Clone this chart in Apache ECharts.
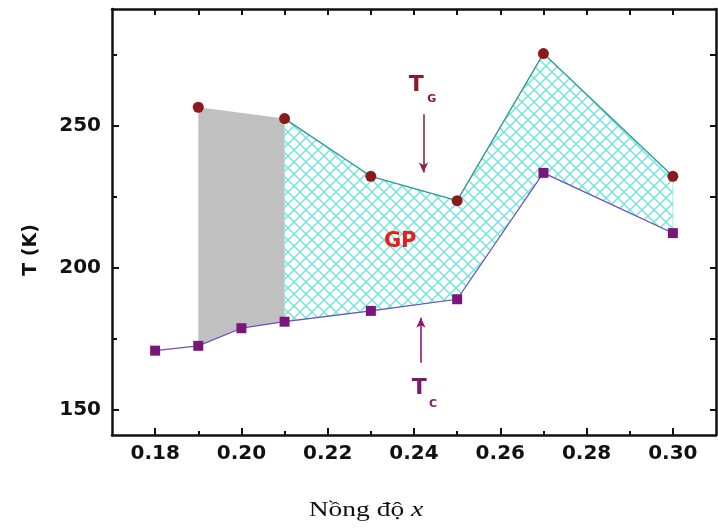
<!DOCTYPE html>
<html><head><meta charset="utf-8">
<script src="https://cdn.jsdelivr.net/npm/echarts@6/dist/echarts.min.js"></script>
<style>html,body{margin:0;padding:0;background:#fff}#c{width:718px;height:529px}</style>
</head><body><div id="c"></div>
<script>
// ---- data ----
const xMajorTicks = [0.18, 0.20, 0.22, 0.24, 0.26, 0.28, 0.30];
const xMinorTicks = [0.19, 0.21, 0.23, 0.25, 0.27, 0.29];
const xTopTicks = [0.18, 0.19, 0.20, 0.21, 0.22, 0.23, 0.24, 0.25, 0.26, 0.27, 0.28, 0.29, 0.30];
const yMajorTicks = [150, 200, 250];
const yMinorTicks = [175, 225, 275];
const yRightTicks = [150, 175, 200, 225, 250, 275];
const tgX = [0.19, 0.21, 0.23, 0.25, 0.27, 0.30];
const tgY = [256.4, 252.4, 232.1, 223.5, 275.3, 232.1];
const tcX = [0.18, 0.19, 0.20, 0.21, 0.23, 0.25, 0.27, 0.30];
const tcY = [170.7, 172.4, 178.6, 180.9, 184.7, 188.8, 233.3, 212.1];
const grayFrom = 0.19, grayTo = 0.21;   // gray band range
const gpFrom = 0.21, gpTo = 0.30;       // hatched GP band range

// ---- helpers ----
const pairs = (xs, ys) => xs.map((x, i) => [x, ys[i]]);
const tg = pairs(tgX, tgY), tc = pairs(tcX, tcY);
const inRange = (arr, a, b) => arr.filter(p => p[0] >= a - 1e-9 && p[0] <= b + 1e-9);
const bandPoly = (a, b) => inRange(tg, a, b).concat(inRange(tc, a, b).reverse());

const pc = document.createElement('canvas');
pc.width = 12; pc.height = 12;
const g = pc.getContext('2d');
g.fillStyle = '#ffffff'; g.fillRect(0, 0, 12, 12);
g.strokeStyle = '#6fe3dc'; g.lineWidth = 1.4;
for (const k of [-12, 0, 12]) {
  g.beginPath(); g.moveTo(k, 0); g.lineTo(k + 12, 12); g.stroke();
  g.beginPath(); g.moveTo(k + 12, 0); g.lineTo(k, 12); g.stroke();
}

const tickFont = {fontFamily: 'DejaVu Sans', fontWeight: 'bold', fontSize: 20, color: '#111'};
const axLine = {show: true, lineStyle: {color: '#111', width: 2.5}};

function polySeries(poly, fill, stroke) {
  return {
    type: 'custom', data: [poly[0]], z: 1, silent: true,
    renderItem: function (params, api) {
      const pts = poly.map(p => api.coord(p));
      return {type: 'polygon', shape: {points: pts},
        style: {fill: fill, stroke: stroke, lineWidth: stroke ? 0.8 : 0}};
    }
  };
}

const chart = echarts.init(document.getElementById('c'), null, {renderer: 'canvas'});
chart.setOption({
  animation: false,
  grid: {left: 112, right: 2, top: 9, bottom: 94},
  xAxis: [
    {type: 'value', position: 'bottom', min: 0.17, max: 0.31, axisLine: axLine,
     splitLine: {show: false},
     axisTick: {show: true, inside: true, length: 7, customValues: xMajorTicks, lineStyle: {color: '#111', width: 2}},
     axisLabel: Object.assign({customValues: xMajorTicks, margin: 9, formatter: v => v.toFixed(2)}, tickFont)},
    {type: 'value', position: 'bottom', min: 0.17, max: 0.31, axisLine: {show: false},
     splitLine: {show: false}, axisLabel: {show: false},
     axisTick: {show: true, inside: true, length: 4, customValues: xMinorTicks, lineStyle: {color: '#111', width: 2}}},
    {type: 'value', position: 'top', min: 0.17, max: 0.31, axisLine: axLine,
     splitLine: {show: false}, axisLabel: {show: false},
     axisTick: {show: true, inside: true, length: 6, customValues: xTopTicks, lineStyle: {color: '#111', width: 2}}}
  ],
  yAxis: [
    {type: 'value', position: 'left', min: 141, max: 291, axisLine: axLine,
     splitLine: {show: false},
     axisTick: {show: true, inside: true, length: 7, customValues: yMajorTicks, lineStyle: {color: '#111', width: 2}},
     axisLabel: Object.assign({customValues: yMajorTicks, margin: 11}, tickFont)},
    {type: 'value', position: 'left', min: 141, max: 291, axisLine: {show: false},
     splitLine: {show: false}, axisLabel: {show: false},
     axisTick: {show: true, inside: true, length: 5, customValues: yMinorTicks, lineStyle: {color: '#111', width: 2}}},
    {type: 'value', position: 'right', min: 141, max: 291, axisLine: axLine,
     splitLine: {show: false}, axisLabel: {show: false},
     axisTick: {show: true, inside: true, length: 6, customValues: yRightTicks, lineStyle: {color: '#111', width: 2}}}
  ],
  series: [
    polySeries(bandPoly(grayFrom, grayTo), '#c0c0c0', null),
    polySeries(bandPoly(gpFrom, gpTo), {image: pc, repeat: 'repeat'}, '#8ee8e2'),
    {type: 'line', data: inRange(tg, gpFrom, gpTo), symbol: 'none', z: 3,
     lineStyle: {color: '#2f9a98', width: 1.3},
     markLine: {silent: true, symbol: ['none', 'arrow'], symbolSize: [7, 10], label: {show: false},
       lineStyle: {type: 'solid', width: 1.6},
       data: [
         [{coord: [0.2422, 253.9], lineStyle: {color: '#8b2a3a', type: 'solid', width: 1.6}}, {coord: [0.2422, 233.4]}],
         [{coord: [0.2416, 166.4], lineStyle: {color: '#8b1a6e', type: 'solid', width: 1.6}}, {coord: [0.2416, 182.3]}]
       ]},
     markPoint: {silent: true, symbol: 'circle', symbolSize: 0,
       data: [
         {coord: [0.2405, 264.3], label: {show: true, position: 'inside', formatter: 'T', color: '#8b1a2a', fontFamily: 'DejaVu Sans', fontWeight: 'bold', fontSize: 22}},
         {coord: [0.2441, 259.2], label: {show: true, position: 'inside', formatter: 'G', color: '#8b1a2a', fontFamily: 'DejaVu Sans', fontWeight: 'bold', fontSize: 11}},
         {coord: [0.2412, 157.4], label: {show: true, position: 'inside', formatter: 'T', color: '#7a1a6e', fontFamily: 'DejaVu Sans', fontWeight: 'bold', fontSize: 22}},
         {coord: [0.2444, 151.9], label: {show: true, position: 'inside', formatter: 'C', color: '#7a1a6e', fontFamily: 'DejaVu Sans', fontWeight: 'bold', fontSize: 11}},
         {coord: [0.2368, 209.1], label: {show: true, position: 'inside', formatter: 'GP', color: '#e3201e', fontFamily: 'DejaVu Sans', fontWeight: 'bold', fontSize: 21}}
       ]}},
    {type: 'line', data: tc, symbol: 'rect', symbolSize: 10, z: 4,
     itemStyle: {color: '#7a167a', opacity: 1}, lineStyle: {color: '#6a50c0', width: 1.2}},
    {type: 'scatter', data: tg, symbol: 'circle', symbolSize: 11, z: 5,
     itemStyle: {color: '#8b1a1a', opacity: 1}}
  ],
  graphic: [
    {type: 'text', x: 31, y: 250, rotation: Math.PI / 2,
     style: {text: 'T (K)', align: 'center', verticalAlign: 'middle', fill: '#111',
       font: 'bold 19px "DejaVu Sans"'}},
    {type: 'text', x: 366, y: 510, scaleX: 1.25,
     style: {text: '{a|Nồng độ }{b|x}', align: 'center', verticalAlign: 'middle',
       rich: {a: {fontFamily: 'Liberation Serif', fontSize: 22, fill: '#111'},
              b: {fontFamily: 'Liberation Serif', fontStyle: 'italic', fontSize: 22, fill: '#111'}}}}
  ]
});
</script></body></html>
